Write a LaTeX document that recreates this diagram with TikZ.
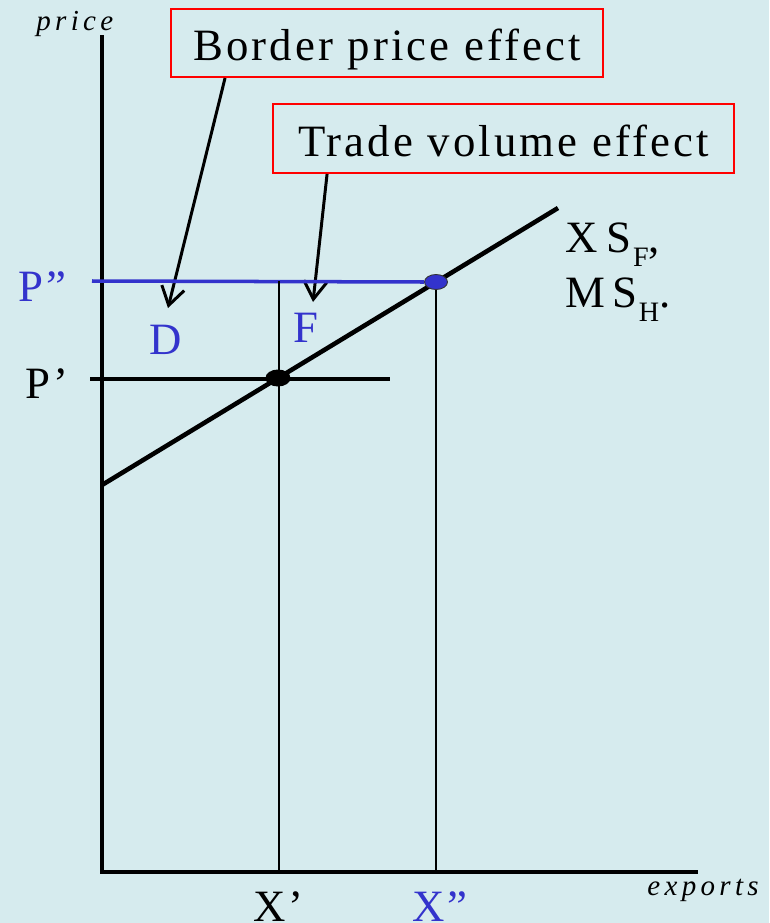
\documentclass[tikz,border=0pt]{standalone}
\usepackage{fontspec}
\setmainfont{Liberation Serif}
\usetikzlibrary{positioning,arrows.meta,shapes.geometric,calc}
\definecolor{bgblue}{RGB}{214,235,238}
\definecolor{effblue}{RGB}{51,51,204}
\definecolor{boxred}{RGB}{255,0,0}
\newcommand{\bigtxt}{\fontsize{25.5}{30}\selectfont\addfontfeatures{LetterSpace=7}}
\newcommand{\axtxt}{\fontsize{16.5}{19}\selectfont\itshape\addfontfeatures{LetterSpace=15}}
\newcommand{\subtxt}[1]{\kern1pt\raisebox{-8.5pt}{\fontsize{16}{16}\selectfont\addfontfeatures{LetterSpace=7}#1}}
\tikzset{
  axisline/.style={line width=2.6pt},
  supply/.style={line width=2.6pt},
  guide/.style={line width=0.75pt},
  effbox/.style={rectangle,draw=boxred,line width=1.1pt,font=\bigtxt,text height=20pt,text depth=0pt,inner sep=0pt},
  lbl/.style={font=\bigtxt,inner sep=0pt,anchor=base west},
  axlbl/.style={font=\axtxt,inner sep=0pt,anchor=base west},
  dot/.style={ellipse,inner sep=0pt},
  pointer/.style={-{Straight Barb[length=3.6mm,width=4.6mm]},line width=1.7pt}
}
\begin{document}
\begin{tikzpicture}[x=0.02cm,y=-0.02cm]
  \fill[bgblue] (0,0) rectangle (769,923);
  \useasboundingbox (0,0) rectangle (769,923);
  % effect boxes
  \node[effbox,minimum width=8.64cm,minimum height=1.36cm] (border) at (387,43) {Border price effect};
  \node[effbox,minimum width=9.22cm,minimum height=1.38cm] (trade) at (503.5,138.5) {Trade volume effect};
  \coordinate (tipD) at (168,308);
  \coordinate (tipF) at (313,302);
  \draw[pointer] ($(border.south west)+(55,0)$) -- (tipD);
  \draw[pointer] ($(trade.south west)+(55,0)$) -- (tipF);
  % axes and supply curve
  \coordinate (O) at (102,872);
  \coordinate (ytop) at (102,35);
  \coordinate (xend) at (698,872);
  \coordinate (s0) at (102,485);
  \coordinate (s1) at (558,208);
  \draw[axisline] (ytop) -- (O) -- (xend);
  \draw[supply] (s0) -- (s1);
  % price levels
  \coordinate (pddl) at (92,281);
  \coordinate (pdl) at (90,379);
  \coordinate (pdr) at (390,379);
  \node[dot,fill=black,minimum width=0.5cm,minimum height=0.34cm] (eq1) at (278,378) {};
  \node[dot,fill=effblue,draw=black!80,line width=0.5pt,minimum width=0.46cm,minimum height=0.3cm] (eq2) at (436,282) {};
  \draw[effblue,line width=2pt] (pddl) -- (eq2.west);
  \draw[line width=1.8pt] (pdl) -- (pdr);
  \draw[guide] (279,281) -- (279,872);
  \draw[guide] (eq2.south) -- (eq2.south |- O);
  % labels
  \node[lbl,text=effblue] (pdd) at (18,301) {P”};
  \node[lbl] (pd) at (25,398) {P’};
  \node[lbl,text=effblue] (lblD) at (149,354) {D};
  \node[lbl,text=effblue] (lblF) at (293,342) {F};
  \node[lbl] (xd) at (253,921) {X’};
  \node[lbl,text=effblue] (xdd) at (412,921) {X”};
  \node[lbl] (xs) at (565,252) {X\kern5pt S\subtxt{F},};
  \node[lbl] (ms) at (565,307) {M\kern4pt S\subtxt{H}.};
  \node[axlbl] (ylab) at (36,30) {price};
  \node[axlbl] (xlab) at (647,895) {exports};
\end{tikzpicture}
\end{document}
